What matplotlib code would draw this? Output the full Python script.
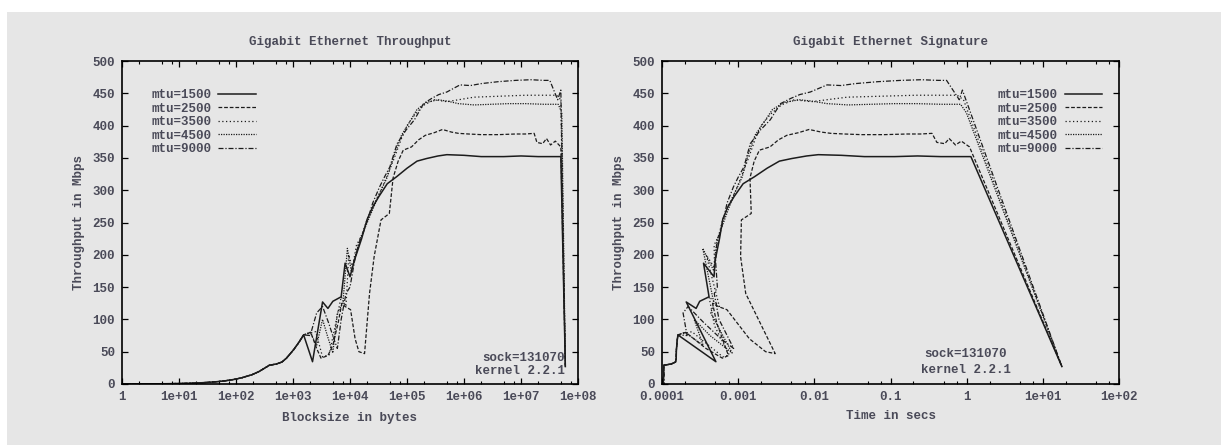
import matplotlib.pyplot as plt
from matplotlib.patches import Rectangle
from matplotlib.ticker import FixedLocator, FixedFormatter, LogLocator, NullFormatter

plt.rcParams['font.family'] = ['Liberation Mono', 'DejaVu Sans Mono']
plt.rcParams['font.size'] = 9
plt.rcParams['font.weight'] = 'bold'

BG = '#e6e6e6'
TXT = '#4a4a58'
INK = '#1c1c1c'

labels = ['mtu=1500', 'mtu=2500', 'mtu=3500', 'mtu=4500', 'mtu=9000']

# small blocks: all mtu runs lie on top of each other
base_sizes = [1, 2, 3, 4, 6, 8, 12, 16, 24, 32, 48, 64, 96, 128, 192, 256,
              384, 512, 640, 768, 1024, 1280, 1536]
base_mbps = [0.077, 0.15, 0.23, 0.31, 0.46, 0.62, 0.92, 1.2, 1.85, 2.5, 3.7,
             4.9, 7.3, 9.8, 14.5, 19.5, 29, 31, 34, 40, 53, 65, 76]

# blocksize (bytes) / throughput (Mbps) per mtu, above 1536 bytes
mtu1500_sizes = [2200, 3300, 4100, 5000, 7000, 8200, 10000, 12000, 16000, 20000,
                 25000, 32000, 45000, 66000, 1e5, 1.5e5, 2.2e5, 3.5e5, 5e5, 1e6,
                 2e6, 5e6, 1e7, 2e7, 3e7, 5e7, 6e7]
mtu1500_mbps = [34.5, 127, 117, 128, 135, 187, 166, 192, 225, 255,
                274, 290, 310, 321, 334, 345, 349, 353, 355, 354,
                352, 352, 353, 352, 352, 352, 27]

mtu2500_sizes = [2048, 2600, 3100, 4100, 5000, 6200, 7200, 8200, 10240, 12288,
                 14336, 18000, 22000, 26500, 35000, 49000, 57000, 70000, 86000,
                 1.2e5, 1.6e5, 2.1e5, 3e5, 4.2e5, 6e5, 8e5, 1.2e6, 2e6, 4e6,
                 8e6, 1.2e7, 1.7e7, 1.9e7, 2.4e7, 2.8e7, 3.3e7, 4e7, 5e7, 6e7]
mtu2500_mbps = [80, 55, 40, 44, 60, 95, 125, 120, 115, 70,
                50, 47, 140, 197, 254, 264, 319, 345, 362,
                367, 378, 385, 389, 394, 390, 388, 387, 386, 386,
                387, 387, 388, 374, 372, 380, 370, 376, 367, 27]

mtu3500_sizes = [2500, 3300, 4300, 5500, 7000, 8500, 9500, 11000, 13000, 16000,
                 20000, 27000, 35000, 46000, 60000, 80000, 1e5, 1.4e5, 2e5, 3e5,
                 5e5, 8e5, 1.5e6, 3e6, 6e6, 1.2e7, 2.5e7, 4.2e7, 5e7, 6e7]
mtu3500_mbps = [81, 42, 45, 90, 135, 120, 200, 180, 215, 230,
                255, 280, 300, 325, 350, 380, 400, 418, 432, 440,
                437, 440, 444, 445, 446, 447, 447, 447, 440, 27]

mtu4500_sizes = [2000, 2600, 3300, 4000, 5000, 6000, 7500, 9000, 10500, 12500,
                 15000, 19000, 25000, 33000, 45000, 60000, 80000, 1.1e5, 1.5e5,
                 2.2e5, 3.5e5, 5e5, 8e5, 1.5e6, 3e6, 6e6, 1.2e7, 2.5e7, 4.5e7,
                 5.2e7, 6e7]
mtu4500_mbps = [80, 60, 100, 75, 48, 110, 125, 210, 175, 200,
                225, 245, 270, 295, 320, 355, 385, 405, 425,
                436, 440, 438, 434, 432, 433, 434, 434, 433, 433,
                420, 27]

mtu9000_sizes = [2000, 2600, 3300, 4200, 5200, 6000, 7000, 8500, 10000, 12000,
                 14000, 17000, 21000, 25000, 33000, 40000, 50000, 67000, 96000,
                 1.35e5, 1.95e5, 2.7e5, 3.6e5, 5e5, 8.5e5, 1.3e6, 2e6, 4e6, 8e6,
                 1.5e7, 2.5e7, 3.2e7, 4.4e7, 5e7, 6e7]
mtu9000_mbps = [75, 110, 120, 95, 70, 55, 100, 140, 150, 190,
                215, 234, 258, 280, 305, 320, 336, 372, 393,
                409, 434, 442, 448, 452, 463, 462, 465, 468, 470,
                471, 470, 470, 440, 455, 27]

all_sizes = [mtu1500_sizes, mtu2500_sizes, mtu3500_sizes, mtu4500_sizes, mtu9000_sizes]
all_mbps = [mtu1500_mbps, mtu2500_mbps, mtu3500_mbps, mtu4500_mbps, mtu9000_mbps]
styles = ['-', (0, (3, 1.5)), (0, (1, 2)), (0, (1, 1)), (0, (4, 1.5, 1, 1.5))]

W, H = 1221, 445
fig = plt.figure(figsize=(W / 100, H / 100), dpi=100, facecolor='white')
fig.patches.append(Rectangle((7 / W, 0), 1 - 7 / W, (H - 12) / H, transform=fig.transFigure,
                             facecolor=BG, edgecolor='none', zorder=-10))

ax1 = fig.add_axes([122 / W, 61 / H, 456 / W, 323 / H])
ax2 = fig.add_axes([662 / W, 61 / H, 457 / W, 323 / H])

for i in range(5):
    sizes = base_sizes + all_sizes[i]
    mbps = base_mbps + all_mbps[i]
    # signature: time for one block = bits / rate
    secs = [8.0 * s / (m * 1e6) for s, m in zip(sizes, mbps)]
    lw = 1.1 if i == 0 else 0.9
    ax1.plot(sizes, mbps, color=INK, lw=lw, linestyle=styles[i], label=labels[i])
    ax2.plot(secs, mbps, color=INK, lw=lw, linestyle=styles[i], label=labels[i])

x1_ticks = [1, 1e1, 1e2, 1e3, 1e4, 1e5, 1e6, 1e7, 1e8]
x1_labels = ['1', '1e+01', '1e+02', '1e+03', '1e+04', '1e+05', '1e+06', '1e+07', '1e+08']
x2_ticks = [1e-4, 1e-3, 1e-2, 1e-1, 1, 1e1, 1e2]
x2_labels = ['0.0001', '0.001', '0.01', '0.1', '1', '1e+01', '1e+02']

for ax, xt, xl in [(ax1, x1_ticks, x1_labels), (ax2, x2_ticks, x2_labels)]:
    ax.set_facecolor(BG)
    ax.set_xscale('log')
    ax.set_xlim(xt[0], xt[-1])
    ax.set_ylim(0, 500)
    ax.xaxis.set_major_locator(FixedLocator(xt))
    ax.xaxis.set_major_formatter(FixedFormatter(xl))
    ax.xaxis.set_minor_locator(LogLocator(base=10, subs=[2, 5, 7.5], numticks=30))
    ax.xaxis.set_minor_formatter(NullFormatter())
    ax.set_yticks(range(0, 501, 50))
    ax.tick_params(which='both', direction='in', top=True, right=True,
                   color='black', labelcolor=TXT, labelsize=9)
    ax.tick_params(which='major', length=4.5, width=0.9, pad=5)
    ax.tick_params(which='minor', length=2.5, width=0.8)
    for sp in ax.spines.values():
        sp.set_linewidth(1.2)
        sp.set_color('black')
    ax.text(-0.095, 0.5, 'Throughput in Mbps', rotation=90, ha='center', va='center',
            color=TXT, transform=ax.transAxes)

ax1.text(0.5, 1.06, 'Gigabit Ethernet Throughput', ha='center', va='center',
         color=TXT, transform=ax1.transAxes)
ax2.text(0.5, 1.06, 'Gigabit Ethernet Signature', ha='center', va='center',
         color=TXT, transform=ax2.transAxes)
ax1.text(0.5, -0.105, 'Blocksize in bytes', ha='center', va='center',
         color=TXT, transform=ax1.transAxes)
ax2.text(0.5, -0.099, 'Time in secs', ha='center', va='center',
         color=TXT, transform=ax2.transAxes)

ax1.text(0.971, 0.080, 'sock=131070', ha='right', va='center', color=TXT, transform=ax1.transAxes)
ax1.text(0.971, 0.040, 'kernel 2.2.1', ha='right', va='center', color=TXT, transform=ax1.transAxes)
ax2.text(0.665, 0.093, 'sock=131070', ha='center', va='center', color=TXT, transform=ax2.transAxes)
ax2.text(0.665, 0.043, 'kernel 2.2.1', ha='center', va='center', color=TXT, transform=ax2.transAxes)

leg_kw = dict(frameon=False, markerfirst=False, borderpad=0, borderaxespad=0,
              handlelength=3.0, handletextpad=0.55, labelspacing=0.12,
              prop={'family': ['Liberation Mono'], 'size': 9, 'weight': 'bold'},
              labelcolor=TXT)
ax1.legend(loc='upper left', bbox_to_anchor=(0.064, 0.913), **leg_kw)
ax2.legend(loc='upper right', bbox_to_anchor=(0.963, 0.913), **leg_kw)

fig.savefig('out.png', dpi=100, facecolor='white')
